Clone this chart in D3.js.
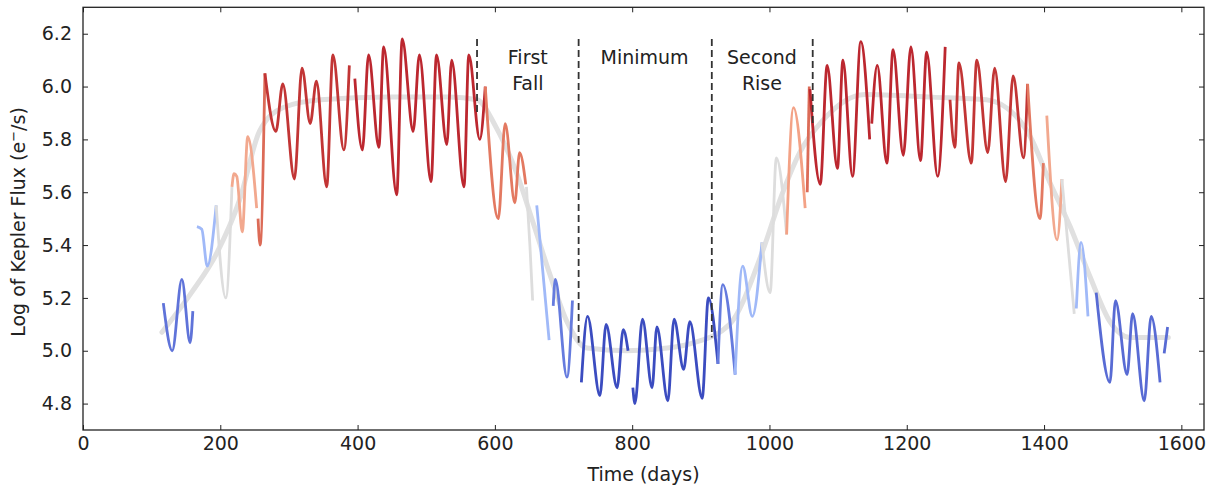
<!DOCTYPE html>
<html>
<head>
<meta charset="utf-8">
<script src="https://cdn.jsdelivr.net/npm/d3@7"></script>
<style>
body{margin:0;background:#fff}
svg{display:block;font-family:"DejaVu Sans",sans-serif}
</style>
</head>
<body>
<svg id="chart" width="1207" height="492"></svg>
<script>
const xTicks = [0,200,400,600,800,1000,1200,1400,1600]
const yTicks = [4.8,5.0,5.2,5.4,5.6,5.8,6.0,6.2]

// smooth trend (gray)
const trend = [[115,5.07],[158,5.22],[195,5.37],[228,5.57],[257,5.83],[291,5.92],[346,5.95],[445,5.96],[534,5.96],[574,5.95],[601,5.85],[632,5.67],[655,5.49],[680,5.29],[705,5.11],[734,5.01],[792,5.00],[851,5.01],[889,5.03],[942,5.10],[989,5.37],[1018,5.59],[1044,5.75],[1077,5.87],[1139,5.97],[1237,5.96],[1316,5.95],[1365,5.87],[1380,5.81],[1408,5.64],[1438,5.47],[1467,5.28],[1496,5.11],[1525,5.05],[1581,5.05]]

// light curve pieces [time, log flux]
const seg01 = [[117,5.18],[130,5.00],[144,5.27],[156,5.03],[160,5.15]]
const seg02 = [[166,5.47],[173,5.46],[181,5.32],[194,5.55]]
const seg03 = [[194,5.55],[208,5.20],[217,5.62]]
const seg04 = [[217,5.62],[220,5.67],[224,5.66],[232,5.45],[240,5.81],[253,5.54]]
const seg05 = [[255,5.50],[258,5.40],[265,6.05]]
const seg06 = [[265,6.05],[281,5.83],[291,6.01],[308,5.65],[319,6.07],[331,5.86],[340,6.02],[355,5.62],[364,6.12],[380,5.76],[388,6.08]]
const seg07 = [[396,6.03],[407,5.76],[416,6.12],[431,5.77],[438,6.15],[457,5.59],[465,6.18],[481,5.83],[490,6.12],[507,5.64],[515,6.12],[530,5.78],[537,6.10],[555,5.62],[562,6.12],[578,5.80],[586,6.00]]
const seg08 = [[586,6.00],[605,5.50],[615,5.86],[629,5.56],[636,5.75],[645,5.63]]
const seg09 = [[646,5.62],[651,5.40],[655,5.19]]
const seg10 = [[661,5.55],[679,5.04]]
const seg11 = [[685,5.17],[688,5.27],[705,4.90],[713,5.19]]
const seg12 = [[726,4.88],[735,5.13],[753,4.83],[762,5.10],[778,4.86],[787,5.08],[794,5.00]]
const seg13 = [[801,4.86],[804,4.80],[815,5.12],[829,4.86],[836,5.09],[852,4.81],[861,5.12],[875,4.93],[884,5.11],[902,4.82],[911,5.20],[925,4.95]]
const seg14 = [[925,4.95],[932,5.25],[950,4.91]]
const seg15 = [[950,4.91],[961,5.32],[975,5.13],[989,5.41]]
const seg16 = [[989,5.41],[1001,5.22],[1010,5.73],[1025,5.44]]
const seg17 = [[1025,5.44],[1035,5.92],[1052,5.54]]
const seg18 = [[1055,5.60],[1058,6.00]]
const seg19 = [[1059,5.99],[1074,5.63],[1084,6.08],[1099,5.69],[1107,6.10],[1121,5.66],[1133,6.17],[1146,5.80]]
const seg20 = [[1149,5.86],[1157,6.08],[1171,5.71],[1180,6.14],[1195,5.74],[1206,6.15],[1220,5.72],[1229,6.13],[1245,5.66],[1256,6.15]]
const seg21 = [[1263,5.95],[1270,5.77],[1276,6.09],[1294,5.71],[1302,6.10],[1318,5.75],[1328,6.07],[1344,5.64],[1355,6.04],[1370,5.73],[1376,6.01]]
const seg22 = [[1376,6.01],[1394,5.50],[1399,5.71]]
const seg23 = [[1404,5.89],[1419,5.42],[1426,5.65]]
const seg24 = [[1426,5.65],[1444,5.14]]
const seg25 = [[1447,5.16],[1454,5.41],[1464,5.13]]
const seg26 = [[1476,5.22],[1496,4.88],[1504,5.19],[1521,4.91],[1529,5.14],[1546,4.81],[1556,5.13],[1569,4.88]]
const seg27 = [[1575,4.99],[1580,5.09]]

// colour level of each piece (mean flux)
const segLevels = [5.10,5.30,5.50,5.70,5.85,5.95,5.97,5.82,5.50,5.30,5.12,5.00,5.00,5.12,5.30,5.50,5.72,5.85,5.97,5.97,5.95,5.82,5.70,5.50,5.30,5.08,5.08]

const phaseT = [574,722,916,1063]
const phaseBottom = [5.90,5.03,5.05,5.85]
const phaseTop = 6.18
const labelT = [648,818,989]
const labelLines = [["First","Fall"],["Minimum"],["Second","Rise"]]

let segments = [seg01,seg02,seg03,seg04,seg05,seg06,seg07,seg08,seg09,seg10,seg11,seg12,seg13,seg14,seg15,seg16,seg17,seg18,seg19,seg20,seg21,seg22,seg23,seg24,seg25,seg26,seg27]

let svg = d3.select("#chart")
let mLeft = 83, mRight = 1204, mTop = 7.3, mBottom = 430

let x = d3.scaleLinear().domain([0,1633]).range([mLeft,mRight])
let y = d3.scaleLinear().domain([4.7,6.3]).range([mBottom,mTop])

let coolwarm = d3.scaleLinear()
	.domain([5.0,5.25,5.5,5.75,6.0])
	.range(["#3b4cc0","#8db0fe","#dddddd","#f49a7b","#b40426"])
	.interpolate(d3.interpolateLab)
	.clamp(true)

let line = d3.line()
	.x(d => x(d[0]))
	.y(d => y(d[1]))
	.curve(d3.curveMonotoneX)

svg.append("path")
	.datum(trend)
	.attr("fill","none")
	.attr("stroke","#e0e0e0")
	.attr("stroke-width",5)
	.attr("stroke-linecap","round")
	.attr("d",line)

segments.forEach((seg,i) => {
	svg.append("path")
		.datum(seg)
		.attr("fill","none")
		.attr("stroke",coolwarm(segLevels[i]))
		.attr("stroke-width",2.8)
		.attr("stroke-linejoin","round")
		.attr("d",line)
})

phaseT.forEach((t,i) => {
	svg.append("line")
		.attr("x1",x(t)).attr("x2",x(t))
		.attr("y1",y(phaseTop)).attr("y2",y(phaseBottom[i]))
		.attr("stroke","#333")
		.attr("stroke-width",1.8)
		.attr("stroke-dasharray","7,4")
})

labelLines.forEach((lines,i) => {
	lines.forEach((s,j) => {
		svg.append("text")
			.attr("x",x(labelT[i]))
			.attr("y",y(6.084) + j*26)
			.attr("text-anchor","middle")
			.attr("font-size",19)
			.attr("fill","#222")
			.text(s)
	})
})

// axes, ticks inside on all four sides
let gx = svg.append("g").attr("transform","translate(0,"+mBottom+")")
	.call(d3.axisBottom(x).tickValues(xTicks).tickSize(-5).tickPadding(7).tickFormat(d3.format("d")))
let gy = svg.append("g").attr("transform","translate("+mLeft+",0)")
	.call(d3.axisLeft(y).tickValues(yTicks).tickSize(-5).tickPadding(11).tickFormat(d3.format(".1f")))
let gt = svg.append("g").attr("transform","translate(0,"+mTop+")")
	.call(d3.axisTop(x).tickValues(xTicks).tickSize(-5).tickFormat(""))
let gr = svg.append("g").attr("transform","translate("+mRight+",0)")
	.call(d3.axisRight(y).tickValues(yTicks).tickSize(-5).tickFormat(""))

;[gx,gy,gt,gr].forEach(g => {
	g.select(".domain").remove()
	g.selectAll(".tick line").attr("stroke","#222")
	g.selectAll("text").attr("font-size",19).attr("fill","#222").attr("font-family","DejaVu Sans")
})

svg.append("rect")
	.attr("x",mLeft).attr("y",mTop)
	.attr("width",mRight-mLeft).attr("height",mBottom-mTop)
	.attr("fill","none")
	.attr("stroke","#222")
	.attr("stroke-width",1.3)

svg.append("text")
	.attr("x",(mLeft+mRight)/2)
	.attr("y",481)
	.attr("text-anchor","middle")
	.attr("font-size",19)
	.attr("fill","#222")
	.text("Time (days)")

let yl = svg.append("text")
	.attr("transform","translate(25,222) rotate(-90)")
	.attr("text-anchor","middle")
	.attr("font-size",19)
	.attr("fill","#222")
yl.append("tspan").text("Log of Kepler Flux (e")
yl.append("tspan").attr("dy",-7).attr("font-size",13).text("\u2212")
yl.append("tspan").attr("dy",7).text("/s)")
</script>
</body>
</html>
